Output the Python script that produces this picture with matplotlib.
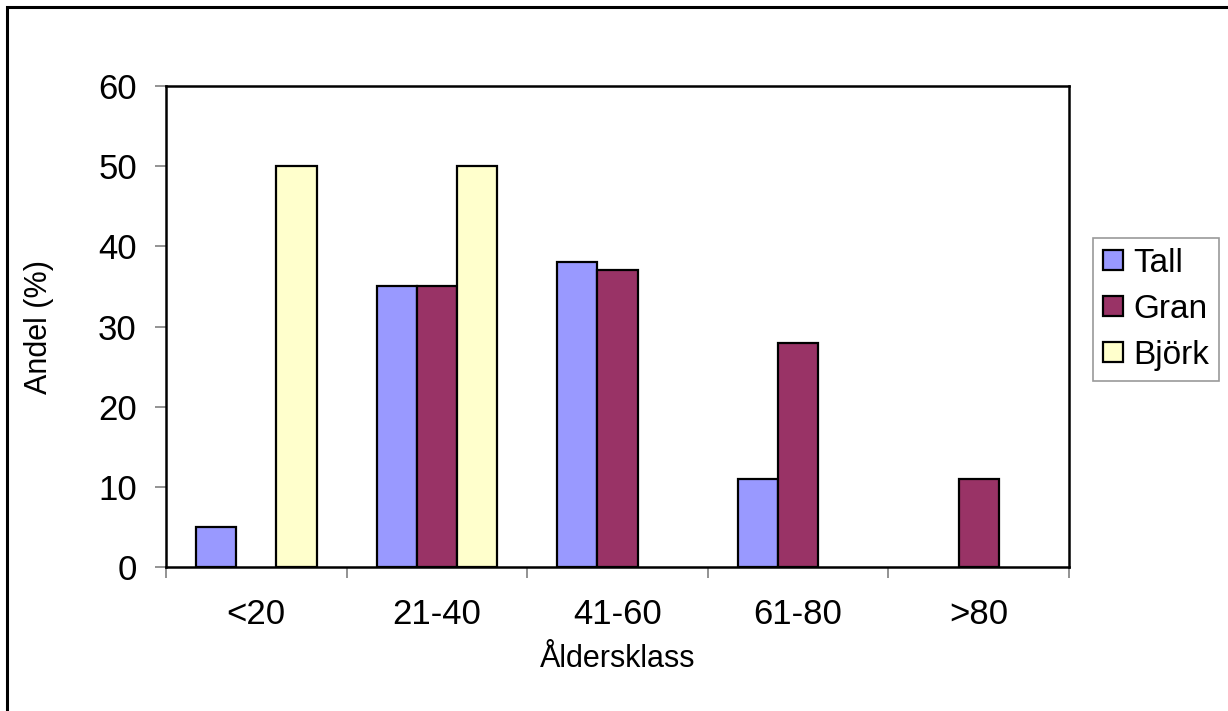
import matplotlib
matplotlib.use("Agg")
import matplotlib.pyplot as plt
import numpy as np
from matplotlib.patches import Rectangle, Patch

# Andel per åldersklass och trädslag
klasser = ["<20", "21-40", "41-60", "61-80", ">80"]
tall = [5, 35, 38, 11, 0]
gran = [0, 35, 37, 28, 11]
bjork = [50, 50, 0, 0, 0]
serier = ["Tall", "Gran", "Björk"]
y_ticks = [0, 10, 20, 30, 40, 50, 60]

farger = ["#9999FF", "#993366", "#FFFFCC"]

plt.rcParams["font.family"] = ["Liberation Sans", "DejaVu Sans"]

W, H = 1228, 711
fig = plt.figure(figsize=(W / 100, H / 100), dpi=100)
fig.patch.set_facecolor("white")

# ram runt diagrammet (beskuren till höger och nedtill)
fig.add_artist(Rectangle((7 / W, -0.05), 1.1, 1 - 7 / H + 0.05,
                         transform=fig.transFigure, fill=False,
                         edgecolor="black", linewidth=2.2))

ax = fig.add_axes([166 / W, 1 - 567 / H, (1069 - 166) / W, (567 - 86) / H])

x = np.arange(len(klasser))
bw = 1 / 4.5  # gap width 150 %
for i, (vals, f) in enumerate(zip([tall, gran, bjork], farger)):
    bars = ax.bar(x + (i - 1) * bw, vals, width=bw, color=f,
                  edgecolor="black", linewidth=1.6, zorder=3)
    # staplar med värdet 0 ritas inte
    for b, v in zip(bars, vals):
        if v == 0:
            b.set_visible(False)

ax.set_xlim(-0.5, len(klasser) - 0.5)
ax.set_ylim(0, 60)
ax.set_yticks(y_ticks)
ax.set_xticks(x)
ax.set_xticklabels(klasser)
ax.set_xticks(np.arange(len(klasser) + 1) - 0.5, minor=True)

ax.tick_params(axis="y", which="major", direction="out", length=8,
               width=1.2, color="#808080", labelsize=25, pad=13)
ax.tick_params(axis="x", which="major", length=0, labelsize=25, pad=22)
ax.tick_params(axis="x", which="minor", direction="out", length=8,
               width=1.2, color="#808080")

for s in ax.spines.values():
    s.set_linewidth(1.8)
    s.set_color("black")

ax.set_ylabel("Andel (%)", fontsize=22, labelpad=32)
ax.set_xlabel("Åldersklass", fontsize=22, labelpad=10)

handles = [Patch(facecolor=f, edgecolor="black", linewidth=1.6)
           for f in farger]
leg = ax.legend(handles, serier, loc="upper left",
                bbox_to_anchor=(1093 / W, 1 - 238 / H),
                bbox_transform=fig.transFigure, fontsize=24, frameon=True,
                fancybox=False, edgecolor="#808080", handlelength=0.6,
                handleheight=0.55, handletextpad=0.3, labelspacing=0.45,
                borderpad=0.3, borderaxespad=0)
leg.get_frame().set_linewidth(1.2)

fig.savefig("out.png", dpi=100, facecolor="white")
